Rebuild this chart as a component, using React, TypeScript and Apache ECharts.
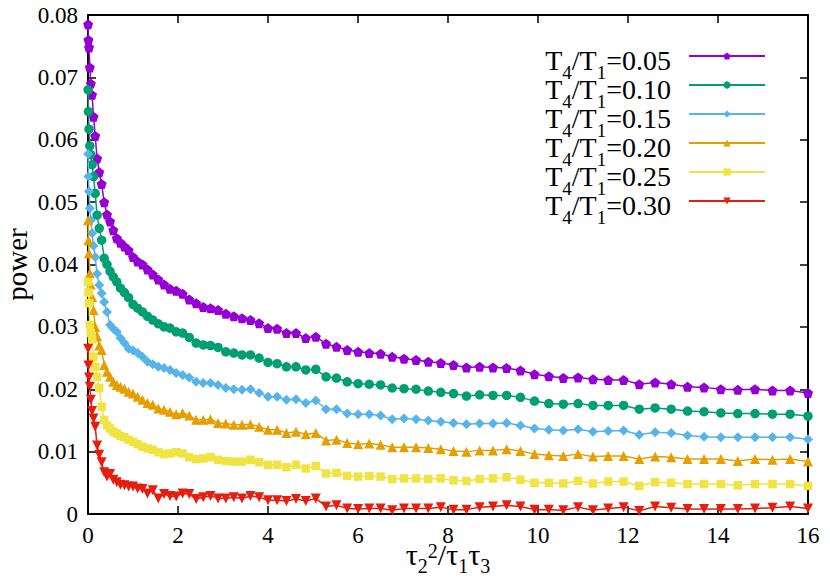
import React, { useEffect, useRef } from "react";
import * as echarts from "echarts";

const FONT = '"Liberation Serif", "Times New Roman", serif';

// x values (tau2^2 / tau1 tau3) shared by all curves
const XS = [
  0.0025, 0.01, 0.0225, 0.04, 0.0625, 0.09, 0.1225, 0.16, 0.2025, 0.25,
  0.3025, 0.36, 0.4225, 0.49, 0.5625, 0.64, 0.7225, 0.81, 0.9025, 1.0,
  1.1025, 1.21, 1.3225, 1.44, 1.5625, 1.69, 1.8225, 1.96, 2.1025, 2.25,
  2.4025, 2.56, 2.7225, 2.89, 3.0625, 3.24, 3.4225, 3.61, 3.8025, 4.0,
  4.2025, 4.41, 4.6225, 4.84, 5.0625, 5.29, 5.5225, 5.76, 6.0025, 6.25,
  6.5025, 6.76, 7.0225, 7.29, 7.5625, 7.84, 8.1225, 8.41, 8.7025, 9.0,
  9.3025, 9.61, 9.9225, 10.24, 10.5625, 10.89, 11.2225, 11.56, 11.9025, 12.25,
  12.6025, 12.96, 13.3225, 13.69, 14.0625, 14.44, 14.8225, 15.21, 15.6025, 16.0,
];

const P005 = [
  0.0785, 0.0760, 0.0748, 0.0716, 0.0690, 0.0672, 0.0637, 0.0606, 0.0570, 0.0548,
  0.0529, 0.0500, 0.0480, 0.0469, 0.0455, 0.0442, 0.0435, 0.0429, 0.0423, 0.0412,
  0.0405, 0.0400, 0.0392, 0.0384, 0.0376, 0.0368, 0.0361, 0.0358, 0.0353, 0.0344,
  0.0338, 0.0332, 0.0330, 0.0327, 0.0321, 0.0317, 0.0314, 0.0311, 0.0306, 0.0298,
  0.0297, 0.0290, 0.0290, 0.0282, 0.0284, 0.0273, 0.0268, 0.0263, 0.0260, 0.0258,
  0.0257, 0.0252, 0.0249, 0.0247, 0.0244, 0.0242, 0.0239, 0.0235, 0.0236, 0.0235,
  0.0234, 0.0230, 0.0224, 0.0221, 0.0218, 0.0219, 0.0216, 0.0215, 0.0215, 0.0208,
  0.0211, 0.0208, 0.0204, 0.0203, 0.0200, 0.0199, 0.0200, 0.0198, 0.0198, 0.0194,
];

const P010 = [
  0.0680, 0.0645, 0.0617, 0.0590, 0.0576, 0.0560, 0.0541, 0.0514, 0.0479, 0.0458,
  0.0439, 0.0410, 0.0400, 0.0389, 0.0380, 0.0372, 0.0362, 0.0355, 0.0347, 0.0336,
  0.0330, 0.0324, 0.0317, 0.0311, 0.0305, 0.0300, 0.0298, 0.0292, 0.0290, 0.0283,
  0.0274, 0.0271, 0.0270, 0.0267, 0.0260, 0.0258, 0.0255, 0.0255, 0.0250, 0.0243,
  0.0241, 0.0236, 0.0236, 0.0231, 0.0232, 0.0220, 0.0218, 0.0212, 0.0209, 0.0208,
  0.0207, 0.0202, 0.0201, 0.0200, 0.0197, 0.0195, 0.0193, 0.0189, 0.0191, 0.0190,
  0.0190, 0.0187, 0.0181, 0.0177, 0.0176, 0.0177, 0.0174, 0.0174, 0.0174, 0.0168,
  0.0170, 0.0168, 0.0165, 0.0164, 0.0162, 0.0161, 0.0161, 0.0160, 0.0160, 0.0157,
];

const P015 = [
  0.0577, 0.0541, 0.0517, 0.0490, 0.0471, 0.0450, 0.0430, 0.0412, 0.0385, 0.0367,
  0.0354, 0.0340, 0.0324, 0.0303, 0.0297, 0.0292, 0.0282, 0.0274, 0.0265, 0.0262,
  0.0258, 0.0252, 0.0244, 0.0240, 0.0236, 0.0234, 0.0231, 0.0226, 0.0223, 0.0219,
  0.0212, 0.0210, 0.0210, 0.0207, 0.0202, 0.0200, 0.0199, 0.0200, 0.0194, 0.0188,
  0.0188, 0.0183, 0.0184, 0.0178, 0.0182, 0.0168, 0.0168, 0.0161, 0.0160, 0.0160,
  0.0158, 0.0152, 0.0153, 0.0152, 0.0150, 0.0148, 0.0146, 0.0144, 0.0145, 0.0145,
  0.0146, 0.0142, 0.0137, 0.0135, 0.0134, 0.0136, 0.0132, 0.0133, 0.0134, 0.0127,
  0.0131, 0.0130, 0.0126, 0.0124, 0.0123, 0.0123, 0.0123, 0.0123, 0.0123, 0.0120,
];

const P020 = [
  0.0471, 0.0439, 0.0418, 0.0386, 0.0368, 0.0348, 0.0327, 0.0300, 0.0285, 0.0270,
  0.0263, 0.0239, 0.0228, 0.0220, 0.0212, 0.0207, 0.0204, 0.0201, 0.0196, 0.0193,
  0.0188, 0.0183, 0.0178, 0.0175, 0.0169, 0.0167, 0.0164, 0.0160, 0.0162, 0.0158,
  0.0151, 0.0151, 0.0152, 0.0146, 0.0145, 0.0143, 0.0143, 0.0144, 0.0140, 0.0135,
  0.0135, 0.0130, 0.0132, 0.0128, 0.0130, 0.0118, 0.0119, 0.0114, 0.0112, 0.0113,
  0.0111, 0.0107, 0.0107, 0.0107, 0.0106, 0.0104, 0.0101, 0.0100, 0.0102, 0.0102,
  0.0104, 0.0101, 0.0096, 0.0094, 0.0093, 0.0096, 0.0092, 0.0093, 0.0093, 0.0088,
  0.0092, 0.0091, 0.0088, 0.0088, 0.0088, 0.0085, 0.0088, 0.0087, 0.0088, 0.0084,
];

const P025 = [
  0.0372, 0.0355, 0.0338, 0.0303, 0.0290, 0.0280, 0.0252, 0.0236, 0.0220, 0.0202,
  0.0172, 0.0151, 0.0142, 0.0137, 0.0132, 0.0129, 0.0125, 0.0123, 0.0119, 0.0116,
  0.0112, 0.0108, 0.0105, 0.0103, 0.0099, 0.0096, 0.0097, 0.0099, 0.0097, 0.0091,
  0.0088, 0.0089, 0.0091, 0.0087, 0.0085, 0.0084, 0.0084, 0.0087, 0.0083, 0.0079,
  0.0079, 0.0075, 0.0079, 0.0073, 0.0077, 0.0065, 0.0066, 0.0061, 0.0060, 0.0061,
  0.0060, 0.0056, 0.0057, 0.0057, 0.0056, 0.0057, 0.0054, 0.0053, 0.0056, 0.0057,
  0.0059, 0.0055, 0.0050, 0.0050, 0.0049, 0.0053, 0.0049, 0.0052, 0.0052, 0.0045,
  0.0051, 0.0050, 0.0048, 0.0048, 0.0048, 0.0046, 0.0048, 0.0048, 0.0048, 0.0045,
];

const P030 = [
  0.0265, 0.0238, 0.0219, 0.0204, 0.0183, 0.0165, 0.0153, 0.0140, 0.0110, 0.0095,
  0.0083, 0.0067, 0.0060, 0.0064, 0.0055, 0.0051, 0.0047, 0.0046, 0.0044, 0.0044,
  0.0041, 0.0040, 0.0033, 0.0038, 0.0025, 0.0032, 0.0029, 0.0028, 0.0033, 0.0032,
  0.0024, 0.0027, 0.0029, 0.0025, 0.0025, 0.0027, 0.0025, 0.0029, 0.0027, 0.0022,
  0.0022, 0.0021, 0.0024, 0.0021, 0.0025, 0.0012, 0.0014, 0.0009, 0.0008, 0.0009,
  0.0009, 0.0006, 0.0009, 0.0009, 0.0009, 0.0011, 0.0007, 0.0007, 0.0011, 0.0012,
  0.0014, 0.0012, 0.0007, 0.0007, 0.0006, 0.0011, 0.0006, 0.0009, 0.0011, 0.0005,
  0.0012, 0.0010, 0.0008, 0.0008, 0.0008, 0.0008, 0.0009, 0.0010, 0.0012, 0.0009,
];

const RATIOS = ["0.05", "0.10", "0.15", "0.20", "0.25", "0.30"];
const VALUES = [P005, P010, P015, P020, P025, P030];
const COLORS = ["#9400d3", "#009e73", "#56b4e9", "#e69f00", "#f0e442", "#e51e10"];
const PENTAGON = "path://M50,0 L97.55,34.55 L79.39,90.45 L20.61,90.45 L2.45,34.55 Z";
const SYMBOLS = [PENTAGON, "circle", "diamond", "triangle", "rect", "triangle"];
const SYMBOL_SIZES = [10, 9.5, 10, 10, 8.5, 10];
const SYMBOL_ROTATES = [0, 0, 0, 0, 0, 180];

const X_TICKS = { min: 0, max: 16, interval: 2 };
const Y_TICKS = { min: 0, max: 0.08, interval: 0.01 };

const mkTick = () => ({ show: true, inside: true, length: 8, lineStyle: { color: "#000", width: 1.5 } });
const mkLine = () => ({ show: true, onZero: false, lineStyle: { color: "#000", width: 2 } });

export default function App() {
  const ref = useRef<HTMLDivElement>(null);
  useEffect(() => {
    if (!ref.current) return;
    const chart = echarts.init(ref.current, null, { renderer: "svg" });
    const names = RATIOS.map((r) => `T4/T1=${r}`);
    const option: any = {
      animation: false,
      backgroundColor: "#fff",
      grid: {
        left: 88, right: 22, top: 15, bottom: 67,
        outerBoundsMode: "none",
        containLabel: false,
        show: false,
      },
      legend: {
        data: names,
        orient: "vertical",
        right: 64,
        top: 46,
        padding: 0,
        align: "right",
        itemWidth: 76,
        itemHeight: 9,
        itemGap: -7,
        selectedMode: false,
        formatter: (name: string) => {
          const v = name.split("=")[1];
          return `{m|T}{s|4}{m|/T}{s|1}{e|=${v}}`;
        },
        textStyle: {
          color: "#000",
          fontFamily: FONT,
          rich: {
            m: { fontSize: 28, lineHeight: 20, verticalAlign: "top", fontFamily: FONT, color: "#000" },
            e: { fontSize: 28, lineHeight: 20, padding: [0, 13, 0, 0], verticalAlign: "top", fontFamily: FONT, color: "#000" },
            s: { fontSize: 19, lineHeight: 10, padding: [17, 0, 0, 0], verticalAlign: "top", fontFamily: FONT, color: "#000" },
          },
        },
      },
      xAxis: [
        {
          type: "value", ...X_TICKS, position: "bottom",
          axisLine: mkLine(),
          axisTick: mkTick(),
          splitLine: { show: false },
          axisLabel: { color: "#000", fontFamily: FONT, fontSize: 23, margin: 10 },
          name: "{t|τ}{sb|2}{sp|2}{t|/τ}{sb|1}{t|τ}{sb|3}",
          nameLocation: "middle",
          nameGap: 21,
          nameMoveOverlap: false,
          nameTextStyle: {
            color: "#000",
            fontFamily: FONT,
            rich: {
              t: { fontSize: 30, lineHeight: 20, padding: [4, 0, 0, 0], verticalAlign: "top", fontFamily: FONT, color: "#000" },
              sb: { fontSize: 20, lineHeight: 10, padding: [21, 0, 0, 0], verticalAlign: "top", fontFamily: FONT, color: "#000" },
              sp: { fontSize: 20, lineHeight: 10, padding: [6, 0, 0, 0], verticalAlign: "top", fontFamily: FONT, color: "#000" },
            },
          },
        },
        {
          type: "value", ...X_TICKS, position: "top",
          axisLine: mkLine(), axisTick: mkTick(),
          splitLine: { show: false }, axisLabel: { show: false },
        },
      ],
      yAxis: [
        {
          type: "value", ...Y_TICKS, position: "left",
          axisLine: mkLine(),
          axisTick: mkTick(),
          splitLine: { show: false },
          axisLabel: {
            color: "#000", fontFamily: FONT, fontSize: 23, margin: 10,
            formatter: (v: number) => (v === 0 ? "0" : v.toFixed(2)),
          },
          name: "power",
          nameLocation: "middle",
          nameGap: 57,
          nameMoveOverlap: false,
          nameTextStyle: { color: "#000", fontFamily: FONT, fontSize: 29 },
        },
        {
          type: "value", ...Y_TICKS, position: "right",
          axisLine: mkLine(), axisTick: mkTick(),
          splitLine: { show: false }, axisLabel: { show: false },
        },
      ],
      series: RATIOS.map((r, i) => ({
        type: "line",
        name: names[i],
        xAxisIndex: 0,
        yAxisIndex: 0,
        data: XS.map((x, j) => [x, VALUES[i][j]]),
        symbol: SYMBOLS[i],
        symbolSize: SYMBOL_SIZES[i],
        symbolRotate: SYMBOL_ROTATES[i],
        showAllSymbol: true,
        itemStyle: { color: COLORS[i] },
        lineStyle: { color: COLORS[i], width: 1.5 },
        emphasis: { disabled: true },
        z: 2 + i,
      })),
    };
    chart.setOption(option);
    return () => chart.dispose();
  }, []);
  return (
    <div
      ref={ref}
      style={{ position: "fixed", left: 0, top: 0, width: 830, height: 581, background: "#fff" }}
    />
  );
}
